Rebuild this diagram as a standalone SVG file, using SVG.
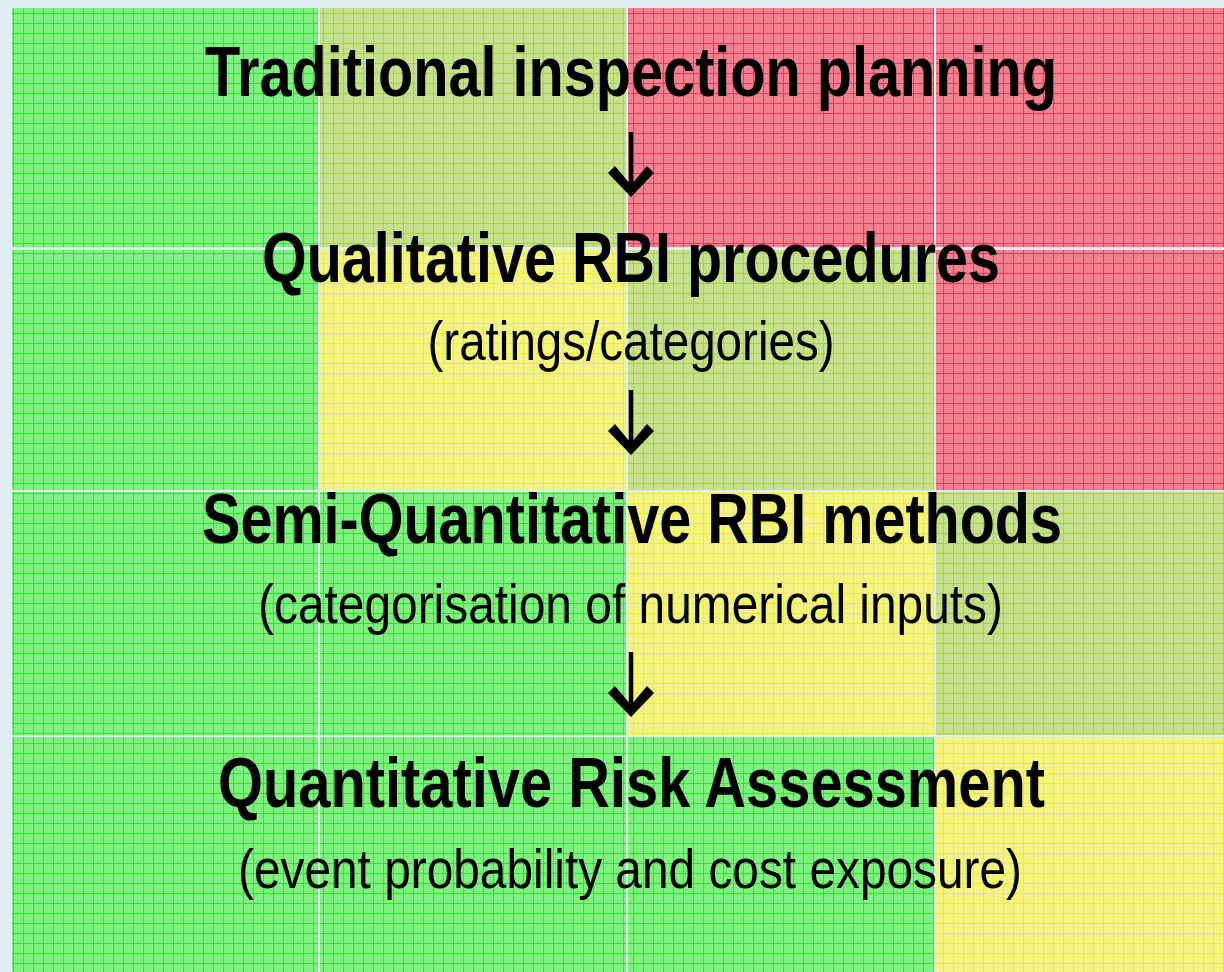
<svg xmlns="http://www.w3.org/2000/svg" width="1224" height="972" viewBox="0 0 1224 972">
<style>
.h{font-family:"Liberation Sans","Arial",sans-serif;font-weight:bold;font-size:60px;fill:#000}
.s{font-family:"Liberation Sans","Arial",sans-serif;font-size:56px;fill:#000}
.arr{fill:#000}
.stem{stroke:#000;stroke-width:4.5;fill:none}
</style>
<defs>
<pattern id="pG" width="10" height="10" patternUnits="userSpaceOnUse">
<rect width="10" height="10" fill="#80f080"/>
<rect x="0" y="3" width="10" height="1" fill="#22ec22"/>
<rect x="3" y="0" width="1" height="10" fill="#22ec22"/>
</pattern>
<pattern id="pO" width="10" height="10" patternUnits="userSpaceOnUse">
<rect width="10" height="10" fill="#c6e08e"/>
<rect x="0" y="3" width="10" height="1" fill="#a8d436"/>
<rect x="3" y="0" width="1" height="10" fill="#a8d436"/>
</pattern>
<pattern id="pR" width="10" height="10" patternUnits="userSpaceOnUse">
<rect width="10" height="10" fill="#f2808f"/>
<rect x="0" y="3" width="10" height="1" fill="#ee3658"/>
<rect x="3" y="0" width="1" height="10" fill="#ee3658"/>
</pattern>
<pattern id="pY" width="10" height="10" patternUnits="userSpaceOnUse">
<rect width="10" height="10" fill="#f4f480"/>
<rect x="0" y="3" width="10" height="1" fill="#f0f018"/>
<rect x="3" y="0" width="1" height="10" fill="#f0f018"/>
</pattern>
</defs>
<rect width="1224" height="972" fill="#e0eef4"/>
<g id="matrix">
<rect x="12" y="8" width="306" height="239" fill="url(#pG)"/>
<rect x="320" y="8" width="306" height="239" fill="url(#pO)"/>
<rect x="628" y="8" width="306" height="239" fill="url(#pR)"/>
<rect x="936" y="8" width="288" height="239" fill="url(#pR)"/>
<rect x="12" y="250" width="306" height="240" fill="url(#pG)"/>
<rect x="320" y="250" width="306" height="240" fill="url(#pY)"/>
<rect x="628" y="250" width="306" height="240" fill="url(#pO)"/>
<rect x="936" y="250" width="288" height="240" fill="url(#pR)"/>
<rect x="12" y="492" width="306" height="243" fill="url(#pG)"/>
<rect x="320" y="492" width="306" height="243" fill="url(#pG)"/>
<rect x="628" y="492" width="306" height="243" fill="url(#pY)"/>
<rect x="936" y="492" width="288" height="243" fill="url(#pO)"/>
<rect x="12" y="737" width="306" height="235" fill="url(#pG)"/>
<rect x="320" y="737" width="306" height="235" fill="url(#pG)"/>
<rect x="628" y="737" width="306" height="235" fill="url(#pG)"/>
<rect x="936" y="737" width="288" height="235" fill="url(#pY)"/>
</g>
<g id="node-traditional">
<text class="h" transform="translate(631,96) scale(1,1.183)" text-anchor="middle" textLength="852" lengthAdjust="spacingAndGlyphs">Traditional inspection planning</text>
</g>
<g id="node-qualitative">
<text class="h" transform="translate(631,282) scale(1,1.183)" text-anchor="middle" textLength="738" lengthAdjust="spacingAndGlyphs">Qualitative RBI procedures</text>
<text class="s" x="631" y="360" text-anchor="middle" textLength="407" lengthAdjust="spacingAndGlyphs">(ratings/categories)</text>
</g>
<g id="node-semi">
<text class="h" transform="translate(632,543) scale(1,1.183)" text-anchor="middle" textLength="860" lengthAdjust="spacingAndGlyphs">Semi-Quantitative RBI methods</text>
<text class="s" x="630.5" y="623" text-anchor="middle" textLength="745" lengthAdjust="spacingAndGlyphs">(categorisation of numerical inputs)</text>
</g>
<g id="node-quantitative">
<text class="h" transform="translate(631.5,807) scale(1,1.183)" text-anchor="middle" textLength="827" lengthAdjust="spacingAndGlyphs">Quantitative Risk Assessment</text>
<text class="s" x="630" y="888" text-anchor="middle" textLength="784" lengthAdjust="spacingAndGlyphs">(event probability and cost exposure)</text>
</g>
<g id="connectors">
<g transform="translate(0,-258)">
<line class="stem" x1="631" y1="390" x2="631" y2="446"/>
<path class="arr" d="M608,431 L615,424 L631,443 L647,424 L654,431 L631,455 Z"/>
</g>
<line class="stem" x1="631" y1="390" x2="631" y2="446"/>
<path class="arr" d="M608,431 L615,424 L631,443 L647,424 L654,431 L631,455 Z"/>
<g transform="translate(0,262)">
<line class="stem" x1="631" y1="390" x2="631" y2="446"/>
<path class="arr" d="M608,431 L615,424 L631,443 L647,424 L654,431 L631,455 Z"/>
</g>
</g>
</svg>
